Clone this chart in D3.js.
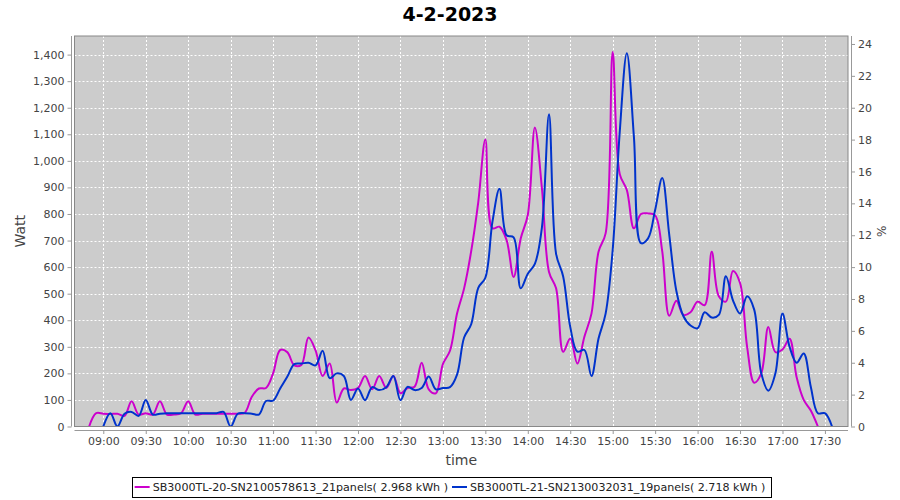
<!DOCTYPE html>
<html><head><meta charset="utf-8">
<script src="https://cdn.jsdelivr.net/npm/d3@7"></script>
<style>body{margin:0;background:#fff} svg{display:block} text{font-family:"DejaVu Sans",sans-serif}</style>
</head><body><svg id="c" width="900" height="500"></svg>
<script>
const chartTitle = "4-2-2023";
const times = ["08:50","08:55","09:00","09:05","09:10","09:15","09:20","09:25","09:30","09:35","09:40","09:45","09:50","09:55",
"10:00","10:05","10:10","10:15","10:20","10:25","10:30","10:35","10:40","10:45","10:50","10:55",
"11:00","11:05","11:10","11:15","11:20","11:25","11:30","11:35","11:40","11:45","11:50","11:55",
"12:00","12:05","12:10","12:15","12:20","12:25","12:30","12:35","12:40","12:45","12:50","12:55",
"13:00","13:05","13:10","13:15","13:20","13:25","13:30","13:35","13:40","13:45","13:50","13:55",
"14:00","14:05","14:10","14:15","14:20","14:25","14:30","14:35","14:40","14:45","14:50","14:55",
"15:00","15:05","15:10","15:15","15:20","15:25","15:30","15:35","15:40","15:45","15:50","15:55",
"16:00","16:05","16:10","16:15","16:20","16:25","16:30","16:35","16:40","16:45","16:50","16:55",
"17:00","17:05","17:10","17:15","17:20","17:25","17:30","17:35"];
const seriesNames = ["SB3000TL-20-SN2100578613_21panels( 2.968 kWh )","SB3000TL-21-SN2130032031_19panels( 2.718 kWh )"];
const seriesColors = ["#cc00cc","#0033cc"];
// Watt, per 5 minutes (null = no data)
const inverter20 = [0,50,48,47,48,40,95,45,50,45,95,45,45,50,
95,45,48,48,48,48,48,48,52,112,143,145,
200,288,280,230,232,335,287,190,237,90,143,137,
145,190,140,190,145,190,125,145,150,240,140,125,
235,285,425,520,660,845,1080,746,752,702,563,708,
796,1126,896,582,520,281,331,237,338,425,658,727,
1410,950,890,746,800,802,795,660,417,473,420,430,
470,457,658,490,470,585,540,300,165,200,375,280,
290,330,185,100,60,0,null,null];
const inverter21 = [null,null,0,50,0,48,55,40,100,45,48,50,50,50,
50,50,50,50,50,55,0,48,50,48,45,96,
97,143,187,235,237,240,230,285,182,200,190,100,
143,99,148,137,148,190,99,149,137,145,188,140,
145,148,195,335,385,522,560,770,895,720,712,520,
575,612,750,1175,650,565,375,282,288,190,331,425,
665,1110,1405,1090,690,708,815,935,720,510,415,380,
370,430,410,420,566,475,425,490,440,200,135,200,
425,300,240,275,150,50,50,0];
const wattTicks = [0,100,200,300,400,500,600,700,800,900,1000,1100,1200,1300,1400];
const pctTicks = [0,2,4,6,8,10,12,14,16,18,20,22,24];
const timeTicks = ["09:00","09:30","10:00","10:30","11:00","11:30","12:00","12:30","13:00","13:30","14:00","14:30","15:00","15:30","16:00","16:30","17:00","17:30"];

const svg = d3.select("#c");
const P = {l:74.5, r:848, t:36, b:426.5};
const parse = d3.timeParse("%H:%M");
const parseS = d3.timeParse("%H:%M:%S");
const x = d3.scaleTime().domain([parseS("08:39:39"), parseS("17:46:18")]).range([P.l, P.r]);
const y = d3.scaleLinear().domain([0, 1470]).range([P.b, P.t]);
const y2 = d3.scaleLinear().domain([0, 24.5]).range([P.b, P.t]);

svg.append("rect").attr("width",900).attr("height",500).attr("fill","#fff");
svg.append("text").attr("x",450).attr("y",21).attr("text-anchor","middle")
  .attr("font-size",19).attr("font-weight","bold").attr("fill","#000").text(chartTitle);

svg.append("rect").attr("x",P.l).attr("y",P.t).attr("width",P.r-P.l).attr("height",P.b-P.t).attr("fill","#cccccc");

const grid = svg.append("g").attr("stroke","#fff").attr("stroke-width",1).attr("stroke-dasharray","2,2");
timeTicks.forEach(t=>{ const xx=Math.round(x(parse(t)))+0.5;
  grid.append("line").attr("x1",xx).attr("x2",xx).attr("y1",P.t).attr("y2",P.b);});
wattTicks.forEach(v=>{ if(v===0) return; const yy=Math.round(y(v))+0.5;
  grid.append("line").attr("x1",P.l).attr("x2",P.r).attr("y1",yy).attr("y2",yy);});

svg.append("defs").append("clipPath").attr("id","clip").append("rect")
  .attr("x",P.l).attr("y",P.t).attr("width",P.r-P.l).attr("height",P.b-P.t);

const line = d3.line().defined(d=>d.v!==null).x(d=>x(d.t)).y(d=>y(d.v)).curve(d3.curveCatmullRom.alpha(0.5));
[inverter20, inverter21].forEach((arr,i)=>{
  const data = times.map((t,k)=>({t:parse(t), v:arr[k]}));
  svg.append("path").attr("clip-path","url(#clip)").datum(data).attr("d",line)
    .attr("fill","none").attr("stroke",seriesColors[i]).attr("stroke-width",2);
});

svg.append("rect").attr("x",P.l).attr("y",P.t).attr("width",P.r-P.l).attr("height",P.b-P.t)
  .attr("fill","none").attr("stroke","#888").attr("stroke-width",1);

const fmtC = d3.format(",");
const gL = svg.append("g").attr("transform",`translate(${P.l-3},0)`)
  .call(d3.axisLeft(y).tickValues(wattTicks).tickFormat(fmtC).tickSizeOuter(0).tickSize(4).tickPadding(3));
const gR = svg.append("g").attr("transform",`translate(${P.r+3},0)`)
  .call(d3.axisRight(y2).tickValues(pctTicks).tickSizeOuter(0).tickSize(4).tickPadding(3));
const gB = svg.append("g").attr("transform",`translate(0,${P.b+3.5})`)
  .call(d3.axisBottom(x).tickValues(timeTicks.map(parse)).tickFormat(d3.timeFormat("%H:%M")).tickSizeOuter(0).tickSize(4).tickPadding(3));
[gL,gR,gB].forEach(g=>{
  g.selectAll("path,line").attr("stroke","#999");
  g.selectAll("text").attr("font-size",11).attr("fill","#444").attr("font-family","DejaVu Sans");
});
gL.select(".domain").attr("d",`M0.5,${P.t}V${P.b}`).attr("transform","translate(-0.5,0)");
gR.select(".domain").attr("d",`M0.5,${P.t}V${P.b}`);
gB.select(".domain").attr("d",`M${P.l},0.5H${P.r}`);

svg.append("text").attr("transform",`translate(25,${(P.t+P.b)/2}) rotate(-90)`).attr("text-anchor","middle")
  .attr("font-size",14).attr("fill","#444").text("Watt");
svg.append("text").attr("transform",`translate(886,${(P.t+P.b)/2}) rotate(-90)`).attr("text-anchor","middle")
  .attr("font-size",12).attr("fill","#444").text("%");
svg.append("text").attr("x",(P.l+P.r)/2).attr("y",465).attr("text-anchor","middle")
  .attr("font-size",14).attr("fill","#444").text("time");

// legend
const lg = svg.append("g");
const items = seriesNames.map((n,i)=>{
  const g = lg.append("g");
  g.append("line").attr("x1",0).attr("x2",15).attr("y1",0).attr("y2",0).attr("stroke",seriesColors[i]).attr("stroke-width",2);
  const t = g.append("text").attr("x",18).attr("y",4).attr("font-size",11.1).attr("fill","#222").text(n);
  return {g, w: 18 + t.node().getComputedTextLength()};
});
const gap = 4, padX = 3;
const total = items.reduce((s,it)=>s+it.w,0) + gap*(items.length-1) + padX*2 + 2;
const bx = 451 - total/2;
let cx = bx + padX;
items.forEach(it=>{ it.g.attr("transform",`translate(${cx},487)`); cx += it.w + gap; });
lg.insert("rect",":first-child").attr("x",Math.round(bx)+0.5).attr("y",477.5).attr("width",Math.round(total)).attr("height",20)
  .attr("fill","#fff").attr("stroke","#000").attr("stroke-width",1);
</script></body></html>
